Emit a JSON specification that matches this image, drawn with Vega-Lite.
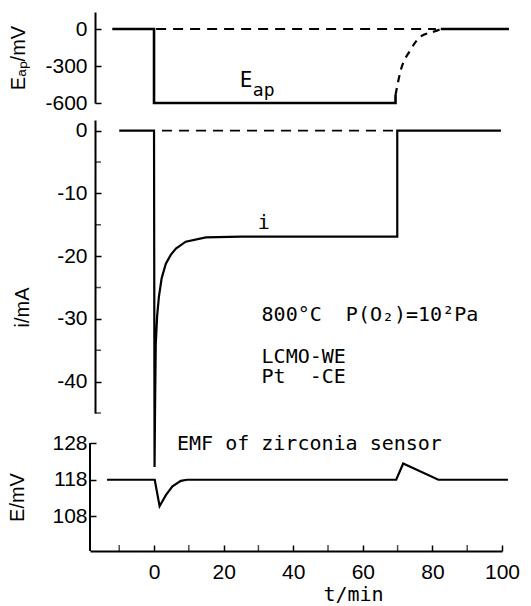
{
  "$schema": "https://vega.github.io/schema/vega-lite/v6.json",
  "padding": {"left": 7, "top": 12, "right": 11, "bottom": 6},
  "config": {
    "view": {"stroke": null},
    "font": "Liberation Sans",
    "axis": {"grid": false, "domainColor": "black", "domainWidth": 2, "tickColor": "black", "tickWidth": 1.5, "tickSize": -6,
      "labelFont": "Liberation Sans", "labelFontSize": 21, "labelColor": "black", "labelFlush": false, "labelOverlap": false,
      "titleFont": "Liberation Sans", "titleFontSize": 20, "titleFontWeight": "normal", "titleColor": "black"},
    "line": {"color": "black", "strokeWidth": 2.2},
    "text": {"font": "DejaVu Sans Mono", "fontSize": 20, "color": "black"},
    "tick": {"color": "black", "thickness": 1.5}
  },
  "datasets": {
    "eap": [
      {"s": "applied", "o": 1, "t": -12, "v": 0},
      {"s": "applied", "o": 2, "t": 0, "v": 0},
      {"s": "applied", "o": 3, "t": 0, "v": -600},
      {"s": "applied", "o": 4, "t": 69.4, "v": -600},
      {"s": "applied", "o": 5, "t": 69.4, "v": -535},
      {"s": "after", "o": 1, "t": 82.4, "v": 0},
      {"s": "after", "o": 2, "t": 102, "v": 0},
      {"s": "recovery", "o": 1, "t": 69.4, "v": -535},
      {"s": "recovery", "o": 2, "t": 70.8, "v": -346},
      {"s": "recovery", "o": 3, "t": 73.7, "v": -170},
      {"s": "recovery", "o": 4, "t": 76.6, "v": -62},
      {"s": "recovery", "o": 5, "t": 80.3, "v": -22},
      {"s": "recovery", "o": 6, "t": 82.4, "v": -2},
      {"s": "baseline", "o": 1, "t": 0.6, "v": 0},
      {"s": "baseline", "o": 2, "t": 81, "v": 0}
    ],
    "cur": [
      {"s": "i", "o": 1, "t": -10, "v": 0},
      {"s": "i", "o": 2, "t": 0, "v": 0},
      {"s": "i", "o": 3, "t": 0.15, "v": -53.6},
      {"s": "i", "o": 4, "t": 0.3, "v": -44},
      {"s": "i", "o": 5, "t": 0.5, "v": -34},
      {"s": "i", "o": 6, "t": 0.9, "v": -29.5},
      {"s": "i", "o": 7, "t": 1.4, "v": -26.5},
      {"s": "i", "o": 8, "t": 2.2, "v": -23.5},
      {"s": "i", "o": 9, "t": 3.4, "v": -21.2},
      {"s": "i", "o": 10, "t": 4.8, "v": -19.8},
      {"s": "i", "o": 11, "t": 6.3, "v": -18.8},
      {"s": "i", "o": 12, "t": 9.1, "v": -17.7},
      {"s": "i", "o": 13, "t": 14.9, "v": -17.0},
      {"s": "i", "o": 14, "t": 25, "v": -16.9},
      {"s": "i", "o": 15, "t": 69.9, "v": -16.9},
      {"s": "i", "o": 16, "t": 69.9, "v": 0},
      {"s": "i", "o": 17, "t": 99.7, "v": 0},
      {"s": "zero", "o": 1, "t": 2.3, "v": 0},
      {"s": "zero", "o": 2, "t": 68.8, "v": 0}
    ],
    "emf": [
      {"o": 1, "t": -13.5, "v": 118},
      {"o": 2, "t": 0.2, "v": 118},
      {"o": 3, "t": 1.6, "v": 110.8},
      {"o": 4, "t": 3.4, "v": 113.8},
      {"o": 5, "t": 5.3, "v": 116.2},
      {"o": 6, "t": 7.7, "v": 117.7},
      {"o": 7, "t": 9.5, "v": 118},
      {"o": 8, "t": 69.6, "v": 118},
      {"o": 9, "t": 71.6, "v": 122.4},
      {"o": 10, "t": 81.7, "v": 118},
      {"o": 11, "t": 101.7, "v": 118}
    ]
  },
  "spacing": 17,
  "bounds": "flush",
  "vconcat": [
    {
      "width": 412,
      "height": 91,
      "layer": [
        {
          "data": {"name": "eap"},
          "transform": [{"filter": "datum.s == 'applied' || datum.s == 'after'"}],
          "mark": {"type": "line", "strokeWidth": 2.6},
          "encoding": {
            "x": {"field": "t", "type": "quantitative", "scale": {"domain": [-18.4, 100], "nice": false, "zero": false}, "axis": null},
            "y": {"field": "v", "type": "quantitative", "scale": {"domain": [-600, 138], "nice": false, "zero": false},
              "axis": {"values": [-600, -300, 0], "title": "Eₐₚ/mV", "offset": -5, "labelPadding": 14, "titleX": -67,
                "labelExpr": "(datum.value < 0 ? '-' : '') + abs(datum.value)"}},
            "detail": {"field": "s"},
            "order": {"field": "o", "type": "quantitative"}
          }
        },
        {
          "data": {"name": "eap"},
          "transform": [{"filter": "datum.s == 'recovery'"}],
          "mark": {"type": "line", "strokeWidth": 2.2, "strokeDash": [7, 6], "interpolate": "monotone"},
          "encoding": {
            "x": {"field": "t", "type": "quantitative"},
            "y": {"field": "v", "type": "quantitative"},
            "order": {"field": "o", "type": "quantitative"}
          }
        },
        {
          "data": {"name": "eap"},
          "transform": [{"filter": "datum.s == 'baseline'"}],
          "mark": {"type": "line", "strokeWidth": 1.8, "strokeDash": [10, 7]},
          "encoding": {
            "x": {"field": "t", "type": "quantitative"},
            "y": {"field": "v", "type": "quantitative"},
            "order": {"field": "o", "type": "quantitative"}
          }
        },
        {
          "data": {"values": [{"t": 24.6, "v": -422, "txt": "E"}]},
          "mark": {"type": "text", "align": "left", "baseline": "middle", "fontSize": 21},
          "encoding": {
            "x": {"field": "t", "type": "quantitative"},
            "y": {"field": "v", "type": "quantitative"},
            "text": {"field": "txt"}
          }
        },
        {
          "data": {"values": [{"t": 28.4, "v": -500, "txt": "ap"}]},
          "mark": {"type": "text", "align": "left", "baseline": "middle", "fontSize": 18},
          "encoding": {
            "x": {"field": "t", "type": "quantitative"},
            "y": {"field": "v", "type": "quantitative"},
            "text": {"field": "txt"}
          }
        }
      ]
    },
    {
      "width": 412,
      "height": 293,
      "layer": [
        {
          "data": {"name": "cur"},
          "transform": [{"filter": "datum.s == 'i'"}],
          "mark": {"type": "line", "strokeWidth": 2.2},
          "encoding": {
            "x": {"field": "t", "type": "quantitative", "scale": {"domain": [-18.4, 100], "nice": false, "zero": false}, "axis": null},
            "y": {"field": "v", "type": "quantitative", "scale": {"domain": [-45, 1.7], "nice": false, "zero": false},
              "axis": {"values": [0, -10, -20, -30, -40], "title": "i/mA", "offset": -5, "labelPadding": 14,
                "titleX": -63, "titleY": 187,
                "labelExpr": "(datum.value < 0 ? '-' : '') + abs(datum.value)"}},
            "order": {"field": "o", "type": "quantitative"}
          }
        },
        {
          "data": {"values": [{"m": -5}, {"m": -15}, {"m": -25}, {"m": -35}, {"m": -45}]},
          "mark": {"type": "tick", "orient": "horizontal", "size": 6, "xOffset": 8},
          "encoding": {
            "x": {"datum": -18.4, "type": "quantitative"},
            "y": {"field": "m", "type": "quantitative"}
          }
        },
        {
          "data": {"name": "cur"},
          "transform": [{"filter": "datum.s == 'zero'"}],
          "mark": {"type": "line", "strokeWidth": 1.8, "strokeDash": [10, 7]},
          "encoding": {
            "x": {"field": "t", "type": "quantitative"},
            "y": {"field": "v", "type": "quantitative"},
            "order": {"field": "o", "type": "quantitative"}
          }
        },
        {
          "data": {"values": [
            {"t": 29.8, "v": -14.7, "txt": "i"},
            {"t": 30.9, "v": -29.4, "txt": "800°C\u00a0\u00a0P(O₂)=10²Pa"},
            {"t": 30.9, "v": -36.0, "txt": "LCMO-WE"},
            {"t": 30.9, "v": -39.2, "txt": "Pt\u00a0\u00a0-CE"}
          ]},
          "mark": {"type": "text", "align": "left", "baseline": "middle"},
          "encoding": {
            "x": {"field": "t", "type": "quantitative"},
            "y": {"field": "v", "type": "quantitative"},
            "text": {"field": "txt"}
          }
        }
      ]
    },
    {
      "width": 412,
      "height": 121,
      "layer": [
        {
          "data": {"name": "emf"},
          "mark": {"type": "line", "strokeWidth": 2.2},
          "encoding": {
            "x": {"field": "t", "type": "quantitative", "scale": {"domain": [-18.4, 100], "nice": false, "zero": false},
              "axis": {"values": [0, 20, 40, 60, 80, 100], "title": "t/min", "labelPadding": 16,
                "titlePadding": 2, "titleX": 263, "titleFont": "DejaVu Sans Mono"}},
            "y": {"field": "v", "type": "quantitative", "scale": {"domain": [98.6, 131.54], "nice": false, "zero": false},
              "axis": {"values": [108, 118, 128], "title": "E/mV", "labelPadding": 9, "titleX": -63, "domain": false, "titleY": 67}},
            "order": {"field": "o", "type": "quantitative"}
          }
        },
        {
          "data": {"values": [{"m": -10}, {"m": 10}, {"m": 30}, {"m": 50}, {"m": 70}, {"m": 90}]},
          "mark": {"type": "tick", "orient": "vertical", "size": 6, "yOffset": -3},
          "encoding": {
            "x": {"field": "m", "type": "quantitative"},
            "y": {"datum": 98.6, "type": "quantitative"}
          }
        },
        {
          "data": {"values": [{"a": -18.4, "lo": 98.6, "hi": 128}]},
          "mark": {"type": "rule", "strokeWidth": 2, "color": "black"},
          "encoding": {
            "x": {"field": "a", "type": "quantitative"},
            "y": {"field": "lo", "type": "quantitative"},
            "y2": {"field": "hi"}
          }
        },
        {
          "data": {"values": [{"t": 6.6, "v": 127.7, "txt": "EMF of zirconia sensor"}]},
          "mark": {"type": "text", "align": "left", "baseline": "middle"},
          "encoding": {
            "x": {"field": "t", "type": "quantitative"},
            "y": {"field": "v", "type": "quantitative"},
            "text": {"field": "txt"}
          }
        }
      ]
    }
  ]
}
